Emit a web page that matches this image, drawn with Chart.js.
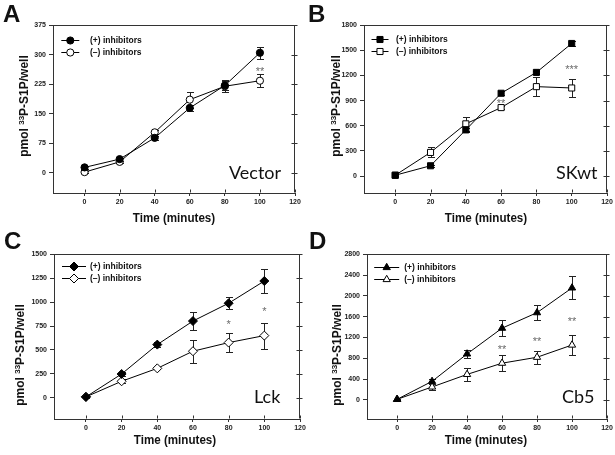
<!DOCTYPE html>
<html lang="en">
<head>
<meta charset="UTF-8">
<title>33P-S1P formation time course</title>
<script src="https://cdn.jsdelivr.net/npm/chart.js"></script>
<style>
  body { margin: 0; background: #fff; }
  #page { position: relative; width: 615px; height: 455px; overflow: hidden;
          font-family: "Liberation Sans", Arial, sans-serif; color: #111; }
  canvas { position: absolute; }
  .letter { position: absolute; font-weight: bold; font-size: 24px; line-height: 24px; z-index: 2; }
  .cell { position: absolute; font-family: Lato, "Open Sans", sans-serif; font-size: 18px; line-height: 18px; z-index: 2; }
  .ytitle { position: absolute; width: 150px; height: 14px; line-height: 14px; text-align: center;
            font-weight: bold; font-size: 12px; transform: rotate(-90deg); white-space: nowrap; z-index: 2; }
  .ytitle sup { font-size: 8px; vertical-align: 4px; line-height: 0; }
  .xtitle { position: absolute; width: 120px; text-align: center; font-weight: bold; font-size: 13.5px;
            line-height: 14px; transform: scaleX(0.86); white-space: nowrap; z-index: 2; }
</style>
</head>
<body>
<div id="page">
  <canvas id="chartA" width="284" height="191" style="left:19px;top:18px"></canvas>
  <canvas id="chartB" width="285" height="191" style="left:330px;top:18px"></canvas>
  <canvas id="chartC" width="288" height="188" style="left:20px;top:247px"></canvas>
  <canvas id="chartD" width="282" height="188" style="left:333px;top:247px"></canvas>

  <div class="letter" style="left:3px;top:2px">A</div>
  <div class="letter" style="left:308px;top:2px">B</div>
  <div class="letter" style="left:4px;top:229px">C</div>
  <div class="letter" style="left:309px;top:229px">D</div>

  <div class="cell" style="left:229px;top:163px">Vector</div>
  <div class="cell" style="left:556px;top:163px">SKwt</div>
  <div class="cell" style="left:254px;top:387px">Lck</div>
  <div class="cell" style="left:562px;top:387px">Cb5</div>

  <div class="ytitle" style="left:-51px;top:99px">pmol <sup>33</sup>P-S1P/well</div>
  <div class="ytitle" style="left:261px;top:99px">pmol <sup>33</sup>P-S1P/well</div>
  <div class="ytitle" style="left:-55px;top:348px">pmol <sup>33</sup>P-S1P/well</div>
  <div class="ytitle" style="left:262px;top:348px">pmol <sup>33</sup>P-S1P/well</div>

  <div class="xtitle" style="left:114px;top:211px">Time (minutes)</div>
  <div class="xtitle" style="left:426px;top:211px">Time (minutes)</div>
  <div class="xtitle" style="left:115px;top:433px">Time (minutes)</div>
  <div class="xtitle" style="left:426px;top:433px">Time (minutes)</div>
</div>

<script>
// time points and axis ticks
const times = [0, 20, 40, 60, 80, 100];
const xTicks = [0, 20, 40, 60, 80, 100, 120];
const legendLabels = ["(+) inhibitors", "(–) inhibitors"];

// A - Vector
const vectorPlus = [14, 35, 89, 165, 222, 305];
const vectorPlusErr = [3, 4, 5, 8, 12, 15];
const vectorMinus = [2, 28, 103, 186, 220, 234];
const vectorMinusErr = [3, 3, 5, 20, 15, 16];
const vectorTicks = [0, 75, 150, 225, 300, 375];
const vectorStarX = [100];
const vectorStarY = [264];
const vectorStarText = ["**"];

// B - SKwt
const skwtPlus = [10, 123, 551, 988, 1237, 1582];
const skwtPlusErr = [15, 15, 20, 25, 20, 30];
const skwtMinus = [10, 282, 623, 817, 1067, 1051];
const skwtMinusErr = [15, 60, 87, 20, 115, 107];
const skwtTicks = [0, 300, 600, 900, 1200, 1500, 1800];
const skwtStarX = [60, 100];
const skwtStarY = [900, 1310];
const skwtStarText = ["**", "***"];

// C - Lck
const lckPlus = [10, 249, 556, 802, 988, 1220];
const lckPlusErr = [10, 20, 30, 90, 65, 125];
const lckMinus = [10, 173, 308, 487, 577, 650];
const lckMinusErr = [10, 20, 10, 120, 100, 135];
const lckTicks = [0, 250, 500, 750, 1000, 1250, 1500];
const lckStarX = [80, 100];
const lckStarY = [800, 930];
const lckStarText = ["*", "*"];

// D - Cb5
const cb5Plus = [10, 356, 883, 1378, 1676, 2152];
const cb5PlusErr = [10, 50, 70, 155, 140, 220];
const cb5Minus = [10, 248, 489, 705, 819, 1054];
const cb5MinusErr = [10, 50, 120, 155, 125, 200];
const cb5Ticks = [0, 400, 800, 1200, 1600, 2000, 2400, 2800];
const cb5StarX = [60, 80, 100];
const cb5StarY = [1028, 1187, 1562];
const cb5StarText = ["**", "**", "**"];

const axisColor = '#333';
const tickFont = { family: "'Liberation Sans', Arial, sans-serif", size: 7, weight: 'bold' };

// error bars, box frame, significance marks and the inset legend
const panelExtras = {
  id: 'panelExtras',
  beforeDatasetsDraw(chart, args, opts) {
    const { ctx, scales: { x, y } } = chart;
    ctx.save();
    ctx.strokeStyle = '#222';
    ctx.lineWidth = 1;
    opts.errors.forEach((errs, di) => {
      chart.data.datasets[di].data.forEach((p, i) => {
        const e = errs[i];
        const px = Math.round(x.getPixelForValue(p.x)) + 0.5;
        const top = Math.round(y.getPixelForValue(p.y + e)) + 0.5;
        const bot = Math.round(y.getPixelForValue(p.y - e)) + 0.5;
        ctx.beginPath();
        ctx.moveTo(px, top); ctx.lineTo(px, bot);
        ctx.moveTo(px - 3.5, top); ctx.lineTo(px + 3.5, top);
        ctx.moveTo(px - 3.5, bot); ctx.lineTo(px + 3.5, bot);
        ctx.stroke();
      });
    });
    ctx.restore();
  },
  afterDraw(chart, args, opts) {
    const { ctx, chartArea: ca, scales: { x, y } } = chart;
    ctx.save();
    ctx.strokeStyle = axisColor;
    ctx.lineWidth = 1;
    const r = Math.round(ca.right) - 0.5, t = Math.round(ca.top) + 0.5, b = Math.round(ca.bottom) - 0.5;
    ctx.beginPath();
    ctx.moveTo(ca.left, t); ctx.lineTo(r, t); ctx.lineTo(r, b);
    y.ticks.forEach(tk => {
      const py = Math.round(y.getPixelForValue(tk.value)) + 0.5;
      ctx.moveTo(r - 3, py); ctx.lineTo(r + 3, py);
    });
    x.ticks.forEach(tk => {
      const px = Math.round(x.getPixelForValue(tk.value)) + 0.5;
      ctx.moveTo(px, b); ctx.lineTo(px, b - 3);
    });
    ctx.stroke();

    // asterisks
    ctx.fillStyle = '#6a6a6a';
    ctx.font = "11px 'Liberation Sans', Arial, sans-serif";
    ctx.textAlign = 'center';
    ctx.textBaseline = 'alphabetic';
    opts.starX.forEach((sx, i) => {
      ctx.fillText(opts.starText[i], x.getPixelForValue(sx), y.getPixelForValue(opts.starY[i]) + 6.5);
    });

    // legend
    const lg = opts.legend;
    ctx.font = "bold 8.5px 'Liberation Sans', Arial, sans-serif";
    ctx.textAlign = 'left';
    ctx.textBaseline = 'middle';
    chart.data.datasets.forEach((ds, i) => {
      const mx = ca.left + lg.dx;
      const my = Math.round(ca.top + lg.dy + i * 12) + 0.5;
      ctx.strokeStyle = '#000';
      ctx.beginPath();
      ctx.moveTo(mx - lg.half, my); ctx.lineTo(mx + lg.half, my);
      ctx.stroke();
      ctx.fillStyle = ds.pointBackgroundColor;
      ctx.strokeStyle = '#000';
      Chart.helpers.drawPoint(ctx, { pointStyle: ds.pointStyle, radius: ds.pointRadius, rotation: 0, borderWidth: 1 }, mx, my);
      ctx.fillStyle = '#111';
      ctx.fillText(ds.label, mx + lg.textDx, my + 0.5);
    });
    ctx.restore();
  }
};

function makePanel(id, p) {
  const pts = vals => times.map((t, i) => ({ x: t, y: vals[i] }));
  const ds = (label, vals, fill) => ({
    label: label,
    data: pts(vals),
    borderColor: '#000',
    borderWidth: 1,
    pointStyle: p.style,
    pointRadius: p.radius,
    pointHoverRadius: p.radius,
    pointBackgroundColor: fill,
    pointBorderColor: '#000',
    pointBorderWidth: 1
  });
  return new Chart(document.getElementById(id), {
    type: 'line',
    data: { datasets: [ds(legendLabels[0], p.plus, '#000'), ds(legendLabels[1], p.minus, '#fff')] },
    options: {
      responsive: false,
      animation: false,
      devicePixelRatio: 1,
      layout: { padding: { top: 6, right: 8, left: 0, bottom: 0 } },
      plugins: {
        legend: { display: false },
        tooltip: { enabled: false },
        panelExtras: {
          errors: [p.plusErr, p.minusErr],
          starX: p.starX, starY: p.starY, starText: p.starText,
          legend: p.legend
        }
      },
      scales: {
        x: {
          type: 'linear', min: p.xMin, max: 120,
          afterBuildTicks: s => { s.ticks = xTicks.map(v => ({ value: v })); },
          afterFit: s => { s.height = 16; },
          grid: { drawOnChartArea: false, tickLength: 3, color: axisColor },
          border: { color: axisColor, width: 1 },
          ticks: { font: tickFont, color: '#222', padding: 2, maxRotation: 0, callback: v => String(v) }
        },
        y: {
          type: 'linear', min: p.yMin, max: p.yTicks[p.yTicks.length - 1],
          afterBuildTicks: s => { s.ticks = p.yTicks.map(v => ({ value: v })); },
          afterFit: s => { s.width = 34; },
          grid: { drawOnChartArea: false, tickLength: 4, color: axisColor },
          border: { color: axisColor, width: 1 },
          ticks: { font: tickFont, color: '#222', padding: 3, callback: v => String(v) }
        }
      }
    },
    plugins: [panelExtras]
  });
}

makePanel('chartA', {
  plus: vectorPlus, plusErr: vectorPlusErr, minus: vectorMinus, minusErr: vectorMinusErr,
  yTicks: vectorTicks, yMin: -51, xMin: -18, style: 'circle', radius: 3.6,
  starX: vectorStarX, starY: vectorStarY, starText: vectorStarText,
  legend: { dx: 17.3, dy: 14.3, half: 9, textDx: 19.7 }
});
makePanel('chartB', {
  plus: skwtPlus, plusErr: skwtPlusErr, minus: skwtMinus, minusErr: skwtMinusErr,
  yTicks: skwtTicks, yMin: -202, xMin: -17.7, style: 'rect', radius: 4.3,
  starX: skwtStarX, starY: skwtStarY, starText: skwtStarText,
  legend: { dx: 16, dy: 13.3, half: 8.5, textDx: 16 }
});
makePanel('chartC', {
  plus: lckPlus, plusErr: lckPlusErr, minus: lckMinus, minusErr: lckMinusErr,
  yTicks: lckTicks, yMin: -221, xMin: -17.9, style: 'rectRot', radius: 4.5,
  starX: lckStarX, starY: lckStarY, starText: lckStarText,
  legend: { dx: 20, dy: 12, half: 12, textDx: 16 }
});
makePanel('chartD', {
  plus: cb5Plus, plusErr: cb5PlusErr, minus: cb5Minus, minusErr: cb5MinusErr,
  yTicks: cb5Ticks, yMin: -368, xMin: -17.2, style: 'triangle', radius: 4.2,
  starX: cb5StarX, starY: cb5StarY, starText: cb5StarText,
  legend: { dx: 19.7, dy: 12.7, half: 12.5, textDx: 17.5 }
});
</script>
</body>
</html>
